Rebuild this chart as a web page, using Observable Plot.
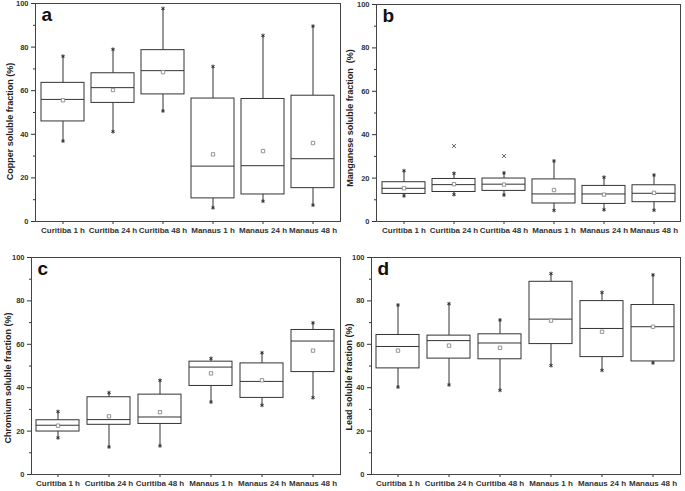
<!DOCTYPE html>
<html>
<head>
<meta charset="utf-8">
<script src="https://cdn.jsdelivr.net/npm/d3@7"></script>
<script src="https://cdn.jsdelivr.net/npm/@observablehq/plot@0.6"></script>
<style>
  html, body { margin: 0; padding: 0; background: white; }
  #wrap { position: relative; width: 685px; height: 491px; overflow: hidden; }
  .panel { position: absolute; }
</style>
</head>
<body>
<div id="wrap">
  <div class="panel" id="pa" style="left:0px;top:0px"></div>
  <div class="panel" id="pb" style="left:342px;top:0px"></div>
  <div class="panel" id="pc" style="left:0px;top:245px"></div>
  <div class="panel" id="pd" style="left:342px;top:245px"></div>
</div>
<script>
const categories = ["Curitiba 1 h", "Curitiba 24 h", "Curitiba 48 h", "Manaus 1 h", "Manaus 24 h", "Manaus 48 h"];
const yTicks = [0, 20, 40, 60, 80, 100];
const yMinorTicks = [10, 30, 50, 70, 90];

// Copper (a)
const cuLow  = [36.9, 41.2, 50.7, 6.3, 9.3, 7.5];
const cuQ1   = [45.9, 54.4, 58.3, 10.6, 12.4, 15.3];
const cuMed  = [56.0, 61.4, 69.2, 25.4, 25.6, 28.8];
const cuQ3   = [63.6, 68.0, 78.6, 56.4, 56.2, 57.7];
const cuHigh = [75.8, 79.0, 97.7, 71.1, 85.3, 89.6];
const cuMean = [55.6, 60.3, 68.5, 30.8, 32.3, 36.0];

// Manganese (b)
const mnLow  = [11.8, 12.4, 12.2, 5.1, 5.4, 5.2];
const mnQ1   = [12.7, 13.6, 14.1, 8.3, 8.1, 8.9];
const mnMed  = [15.3, 17.0, 17.2, 12.7, 12.7, 13.0];
const mnQ3   = [18.1, 19.6, 19.8, 19.4, 16.4, 16.7];
const mnHigh = [23.4, 22.2, 22.4, 27.9, 20.4, 21.4];
const mnMean = [15.3, 17.2, 17.0, 14.5, 12.4, 13.2];
const mnOutlierCat = ["Curitiba 24 h", "Curitiba 48 h"];
const mnOutlierVal = [34.8, 30.2];

// Chromium (c)
const crLow  = [16.9, 12.7, 13.2, 33.4, 31.9, 35.4];
const crQ1   = [19.8, 22.9, 23.3, 40.8, 35.3, 47.2];
const crMed  = [22.7, 25.3, 26.5, 49.5, 42.9, 61.5];
const crQ3   = [25.0, 35.6, 36.8, 52.0, 51.2, 66.6];
const crHigh = [29.0, 37.7, 43.4, 53.5, 56.1, 69.9];
const crMean = [22.5, 26.8, 28.7, 46.6, 43.4, 57.1];

// Lead (d)
const pbLow  = [40.3, 41.3, 38.8, 50.2, 48.0, 51.4];
const pbQ1   = [48.9, 53.4, 53.1, 60.1, 54.1, 52.1];
const pbMed  = [59.0, 61.7, 60.6, 71.6, 67.3, 68.1];
const pbQ3   = [64.3, 64.0, 64.6, 88.8, 79.9, 78.1];
const pbHigh = [78.1, 78.7, 71.2, 92.6, 83.9, 92.0];
const pbMean = [57.1, 59.4, 58.4, 70.9, 65.8, 68.1];

function rowsOf(low, q1, med, q3, high, mean) {
  return categories.map((c, i) => ({cat: c, low: low[i], q1: q1[i], med: med[i], q3: q3[i], high: high[i], mean: mean[i]}));
}

const INK = "#333";

function panel(o) {
  const rows = rowsOf(o.low, o.q1, o.med, o.q3, o.high, o.mean);
  const marks = [
    Plot.axisX({tickSize: 3, tickPadding: 3, label: null, fontSize: 8}),
    Plot.axisY({ticks: yTicks, tickSize: 4, tickPadding: 3, label: null, fontSize: 7.5}),
    Plot.axisY({ticks: yMinorTicks, tickSize: 2, tickFormat: () => "", label: null}),
    Plot.ruleX(rows, {x: "cat", y1: "low", y2: "q1", stroke: INK, strokeWidth: 1}),
    Plot.ruleX(rows, {x: "cat", y1: "q3", y2: "high", stroke: INK, strokeWidth: 1}),
    Plot.barY(rows, {x: "cat", y1: "q1", y2: "q3", fill: "white", stroke: INK, strokeWidth: 1}),
    Plot.tickY(rows, {x: "cat", y: "med", stroke: INK, strokeWidth: 1}),
    Plot.dot(rows, {x: "cat", y: "low", symbol: "asterisk", r: 1.8, stroke: INK, strokeWidth: 1}),
    Plot.dot(rows, {x: "cat", y: "high", symbol: "asterisk", r: 1.8, stroke: INK, strokeWidth: 1}),
    Plot.dot(rows, {x: "cat", y: "mean", symbol: "square", r: 1.9, stroke: "#888", fill: "white", strokeWidth: 0.9}),
    Plot.frame({stroke: "#444", strokeWidth: 1}),
    Plot.text([o.letter], {frameAnchor: "top-left", textAnchor: "start", lineAnchor: "top", dx: 6, dy: 4, fontSize: 19, fontWeight: "bold", fill: "#111"}),
    Plot.text([o.ylabel], {frameAnchor: "left", rotate: -90, textAnchor: "middle", dx: -o.labelOffset, dy: o.labelDy, fontSize: 9, fontWeight: "bold", fill: "#222"})
  ];
  if (o.outCat) {
    const outs = o.outCat.map((c, i) => ({cat: c, v: o.outVal[i]}));
    marks.push(Plot.dot(outs, {x: "cat", y: "v", symbol: "times", r: 2.0, stroke: "#666", strokeWidth: 1}));
  }
  return Plot.plot({
    width: o.width,
    height: o.height,
    marginLeft: o.ml,
    marginRight: o.mr,
    marginTop: o.mt,
    marginBottom: o.mb,
    style: {fontFamily: "'Liberation Sans', Arial, sans-serif", fontWeight: "bold", color: INK, background: "white", overflow: "visible"},
    x: {type: "band", domain: categories, paddingInner: 0.15, paddingOuter: 0.075},
    y: {domain: [0, 100]},
    marks
  });
}

document.getElementById("pa").appendChild(panel({
  low: cuLow, q1: cuQ1, med: cuMed, q3: cuQ3, high: cuHigh, mean: cuMean,
  letter: "a", ylabel: "Copper soluble fraction (%)",
  width: 342, height: 245, ml: 35, mr: 2, mt: 3, mb: 24, labelOffset: 25, labelDy: 9
}));
document.getElementById("pb").appendChild(panel({
  low: mnLow, q1: mnQ1, med: mnMed, q3: mnQ3, high: mnHigh, mean: mnMean,
  outCat: mnOutlierCat, outVal: mnOutlierVal,
  letter: "b", ylabel: "Manganese soluble fraction  (%)",
  width: 343, height: 245, ml: 34, mr: 5, mt: 4, mb: 24, labelOffset: 26, labelDy: 5
}));
document.getElementById("pc").appendChild(panel({
  low: crLow, q1: crQ1, med: crMed, q3: crQ3, high: crHigh, mean: crMean,
  letter: "c", ylabel: "Chromium soluble fraction (%)",
  width: 342, height: 246, ml: 31, mr: 2, mt: 12, mb: 17, labelOffset: 23, labelDy: 12
}));
document.getElementById("pd").appendChild(panel({
  low: pbLow, q1: pbQ1, med: pbMed, q3: pbQ3, high: pbHigh, mean: pbMean,
  letter: "d", ylabel: "Lead soluble fraction (%)",
  width: 343, height: 246, ml: 29, mr: 5, mt: 12, mb: 17, labelOffset: 22, labelDy: 11
}));
</script>
</body>
</html>
